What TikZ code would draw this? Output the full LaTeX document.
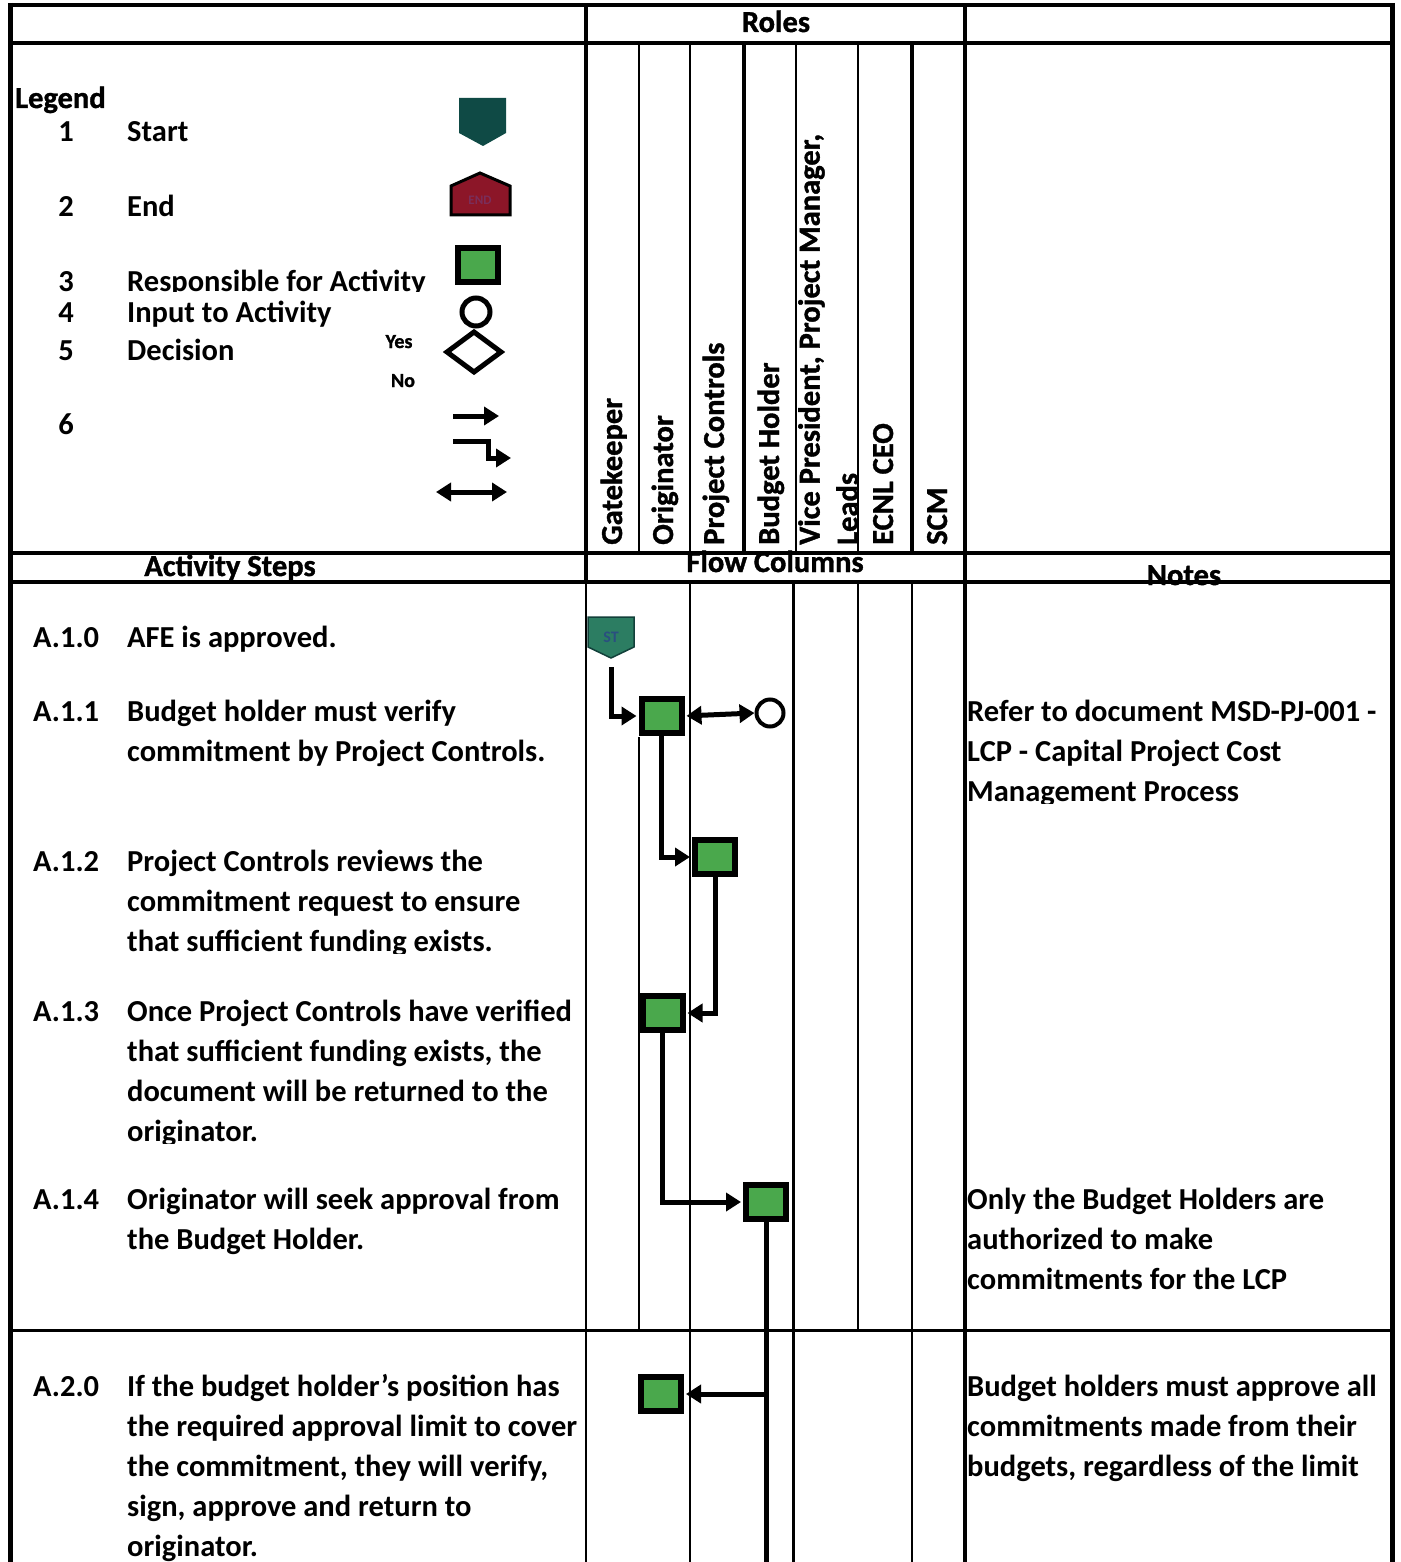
\documentclass[tikz,border=0pt]{standalone}
\usepackage{fontspec}
\setmainfont{Carlito}[BoldFont={Carlito Bold}]
\newfontfamily\headfont{Carlito Bold}[FakeBold=1.2]
\usetikzlibrary{arrows.meta}
\definecolor{actgreen}{HTML}{4AA84C}
\definecolor{startteal}{HTML}{0F4A45}
\definecolor{stfill}{HTML}{2C7D62}
\definecolor{stline}{HTML}{12403A}
\definecolor{sttext}{HTML}{2A4F80}
\definecolor{endred}{HTML}{8C1628}
\definecolor{endtext}{HTML}{7A2E5A}

\begin{document}
\begin{tikzpicture}[x=1pt,y=-1pt,
  txt/.style={font=\bfseries\fontsize{30.5}{40}\selectfont, inner sep=0pt, align=left, anchor=north west},
  lbl/.style={font=\bfseries\fontsize{30.5}{40}\selectfont, inner sep=0pt, anchor=base west},
  hdr/.style={font=\headfont\fontsize{30.5}{40}\selectfont, inner sep=0pt, anchor=base},
  num/.style={font=\bfseries\fontsize{30.5}{40}\selectfont, inner sep=0pt, anchor=base},
  role/.style={font=\headfont\fontsize{30.5}{38}\selectfont, inner sep=0pt, rotate=90, anchor=base west, align=left},
  small/.style={font=\headfont\fontsize{20}{20}\selectfont, inner sep=0pt, anchor=base},
  activity/.style={draw=black, line width=6pt, fill=actgreen, minimum width=40pt, minimum height=34pt, inner sep=0pt},
  inputnode/.style={circle, draw=black, line width=4pt, fill=white, minimum size=27pt, inner sep=0pt},
  flow/.style={line width=5pt, -{Triangle[length=15pt,width=18pt]}},
  flowboth/.style={line width=5pt, {Triangle[length=15pt,width=18pt]}-{Triangle[length=15pt,width=18pt]}},
]
\useasboundingbox (0,0) rectangle (1400,1562);
\fill[white] (0,0) rectangle (1400,1562);

% ---------- header captions (lines are drawn over them) ----------
\node[hdr] (roles) at (776,32) {Roles};
\node[hdr] (actsteps) at (230,576) {Activity Steps};
\node[hdr] (flowcols) at (775,572) {Flow Columns};
\node[hdr] (notes) at (1184,585) {Notes};

% ---------- table grid ----------
\draw[line width=4pt] (8,5) -- (1394,5);
\draw[line width=5pt] (10,3) -- (10,1562);
\draw[line width=5pt] (1392,3) -- (1392,1562);
\draw[line width=4pt] (10,43) -- (1392,43);
\draw[line width=3.5pt] (586,5) -- (586,582);
\draw[line width=2pt] (586,582) -- (586,1562);
\draw[line width=4pt] (965,5) -- (965,1562);
\draw[line width=3.5pt] (10,553) -- (1392,553);
\draw[line width=4pt] (10,582) -- (1392,582);
\draw[line width=3pt] (10,1330) -- (1392,1330);
% role column dividers
\foreach \xx/\w in {639/2pt,690/2pt,744/4pt,796/2pt,858/2pt,912/4pt}
  \draw[line width=\w] (\xx,43) -- (\xx,553);
% flow column dividers
\draw[line width=1.5pt] (639,737) -- (639,1330);
\draw[line width=2pt] (690,582) -- (690,1562);
\draw[line width=3pt] (793,582) -- (793,1562);
\draw[line width=1.2pt] (858,582) -- (858,1330);
\draw[line width=2pt] (912,582) -- (912,1562);

% ---------- legend ----------
\node[lbl, font=\headfont\fontsize{30.5}{40}\selectfont] (legend) at (15,108) {Legend};
\node[num] (k1) at (66,142) {1};
\node[num] (k2) at (66,217) {2};
\node[num] (k3) at (66,291) {3};
\node[num] (k4) at (66,322) {4};
\node[num] (k5) at (66,360) {5};
\node[num] (k6) at (66,434) {6};
\node[lbl] (l1) at (127,142) {Start};
\node[lbl] (l2) at (127,217) {End};
\begin{scope}
  \clip (120,250) rectangle (440,291);
  \node[lbl] (l3) at (127,291) {Responsible for Activity};
\end{scope}
\node[lbl] (l4) at (127,322) {Input to Activity};
\node[lbl] (l5) at (127,360) {Decision};
\node[small] (yes) at (399,348) {Yes};
\node[small] (no) at (403,387) {No};

% legend symbols
\fill[startteal] (459,98) -- (506,98) -- (506,133) -- (483,146) -- (459,133) -- cycle;
\draw[line width=3pt, fill=endred] (451,186) -- (480,173) -- (510,186) -- (510,215) -- (451,215) -- cycle;
\node[font=\bfseries\fontsize{13}{13}\selectfont, text=endtext, inner sep=0pt] (endtxt) at (480,200) {END};
\node[activity] (lgbox) at (478,265) {};
\node[inputnode, minimum size=28pt, line width=5pt] (lgcirc) at (476,312) {};
\draw[line width=5pt, line join=miter] (474,332) -- (501,352) -- (474,372) -- (447,352) -- cycle;
\coordinate (la1) at (453,416);
\coordinate (lb1) at (499,416);
\draw[flow] (la1) -- (lb1);
\coordinate (la2) at (453,441);
\coordinate (lb2) at (511,458);
\draw[flow] (la2) -- ++(35,0) |- (lb2);
\coordinate (la3) at (436,492);
\coordinate (lb3) at (507,492);
\draw[flowboth] (la3) -- (lb3);

% ---------- role headings ----------
\node[role] (rgate) at (622,545) {Gatekeeper};
\node[role] (rorig) at (673,545) {Originator};
\node[role] (rpc) at (724,545) {Project Controls};
\node[role] (rbh) at (779,545) {Budget Holder};
\node[role, anchor=north west] (rvp) at (798,545) {Vice President, Project Manager,\\Leads};
\node[role] (rceo) at (893,545) {ECNL CEO};
\node[role] (rscm) at (947,545) {SCM};

% ---------- activity steps ----------
\node[txt] (n10) at (33,619) {\strut A.1.0};
\node[txt] (t10) at (127,619) {\strut AFE is approved.};
\node[txt] (n11) at (33,693) {\strut A.1.1};
\node[txt] (t11) at (127,693) {\strut Budget holder must verify\\commitment by Project Controls.};
\node[txt] (n12) at (33,843) {\strut A.1.2};
\begin{scope}
  \clip (120,830) rectangle (586,953);
  \node[txt] (t12) at (127,843) {\strut Project Controls reviews the\\commitment request to ensure\\that sufficient funding exists.};
\end{scope}
\node[txt] (n13) at (33,993) {\strut A.1.3};
\begin{scope}
  \clip (120,980) rectangle (586,1143);
  \node[txt] (t13) at (127,993) {\strut Once Project Controls have verified\\that sufficient funding exists, the\\document will be returned to the\\originator.};
\end{scope}
\node[txt] (n14) at (33,1181) {\strut A.1.4};
\node[txt] (t14) at (127,1181) {\strut Originator will seek approval from\\the Budget Holder.};
\node[txt] (n20) at (33,1368) {\strut A.2.0};
\node[txt] (t20) at (127,1368) {\strut If the budget holder's position has\\the required approval limit to cover\\the commitment, they will verify,\\sign, approve and return to\\originator.};

% ---------- notes ----------
\begin{scope}
  \clip (966,680) rectangle (1390,803);
  \node[txt] (note11) at (967,693) {\strut Refer to document MSD-PJ-001 -\\LCP - Capital Project Cost\\Management Process};
\end{scope}
\node[txt] (note14) at (967,1181) {\strut Only the Budget Holders are\\authorized to make\\commitments for the LCP};
\node[txt] (note20) at (967,1368) {\strut Budget holders must approve all\\commitments made from their\\budgets, regardless of the limit};

% ---------- flow ----------
\filldraw[fill=stfill, draw=stline, line width=1.5pt] (588,617) -- (634,617) -- (634,647) -- (611,658) -- (588,647) -- cycle;
\node[font=\bfseries\fontsize{16}{16}\selectfont, text=sttext, minimum width=46pt, minimum height=41pt, inner sep=0pt] (st) at (611,637.5) {ST};

\node[activity] (b11) at (661.5,716) {};
\node[inputnode] (c11) at (770,713) {};
\node[activity] (b12) at (715,857) {};
\node[activity] (b13) at (662.5,1013) {};
\node[activity] (b14) at (766,1202) {};
\node[activity] (b20) at (661,1394) {};
\coordinate (onward) at (766,1566);

\draw[flow, shorten <=9pt, shorten >=2pt] (st.south) |- (b11.west);
\draw[flowboth, shorten <=2pt] (b11.east) -- (c11.west);
\draw[flow, shorten >=2pt] (b11.south) |- (b12.west);
\draw[flow, shorten >=2pt] (b12.south) |- (b13.east);
\draw[flow, shorten >=2pt] (b13.south) |- (b14.west);
\draw[flow, shorten >=2pt] (b14.south) |- (b20.east);
\draw[line width=5pt] (b14.south) -- (onward);
\end{tikzpicture}
\end{document}
